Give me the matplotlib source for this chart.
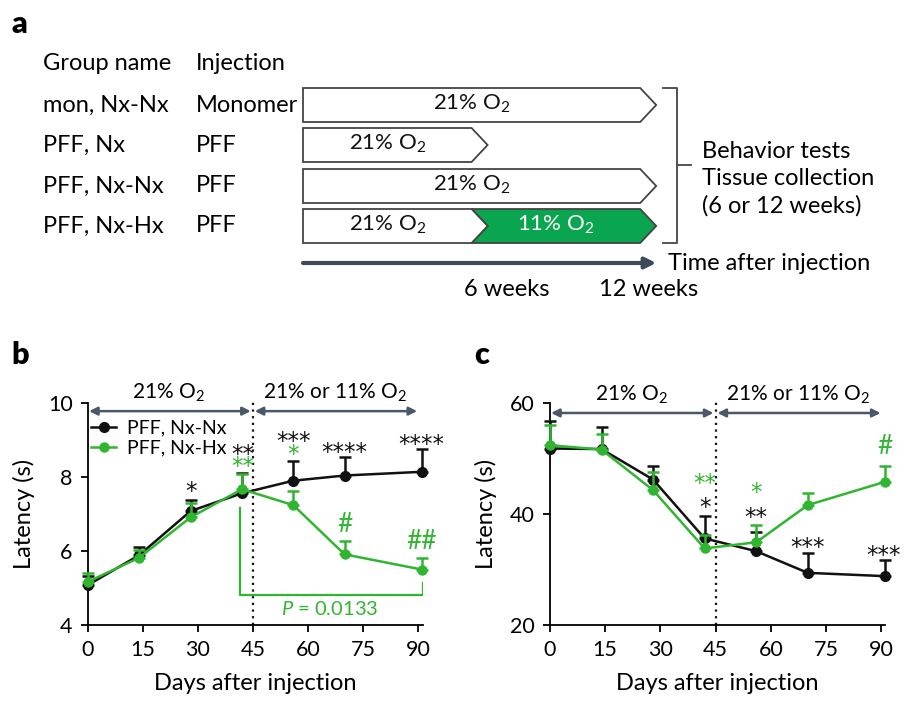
import matplotlib
matplotlib.use('Agg')
import matplotlib.pyplot as plt
from matplotlib.patches import Polygon
from matplotlib.lines import Line2D

plt.rcParams['font.family'] = ['Lato', 'DejaVu Sans']
plt.rcParams['mathtext.fontset'] = 'custom'
plt.rcParams['mathtext.rm'] = 'Lato'
plt.rcParams['mathtext.it'] = 'Lato:italic'

BLACK = '#111111'
GREEN = '#30b530'
FILL_GREEN = '#0aa64f'
SLATE = '#4a5868'

# ---- panel a : design
groups = ['mon, Nx-Nx', 'PFF, Nx', 'PFF, Nx-Nx', 'PFF, Nx-Hx']
injections = ['Monomer', 'PFF', 'PFF', 'PFF']
phase_start = [[0], [0], [0], [0, 6]]
phase_end = [[12], [6], [12], [6, 12]]
phase_o2 = [['21%'], ['21%'], ['21%'], ['21%', '11%']]
week_labels = ['6 weeks', '12 weeks']

# ---- panels b and c
days = [0, 14, 28, 42, 56, 70, 91]
b_nxnx = [5.08, 5.89, 7.08, 7.56, 7.90, 8.04, 8.14]
b_nxnx_err = [0.25, 0.23, 0.30, 0.56, 0.54, 0.49, 0.63]
b_nxhx = [5.17, 5.82, 6.91, 7.67, 7.24, 5.91, 5.50]
b_nxhx_err = [0.24, 0.21, 0.40, 0.41, 0.39, 0.37, 0.30]

c_nxnx = [51.8, 51.7, 46.2, 35.6, 33.3, 29.4, 28.8]
c_nxnx_err = [5.0, 4.0, 2.4, 4.0, 3.5, 3.6, 3.0]
c_nxhx = [52.4, 51.6, 44.3, 33.8, 34.9, 41.6, 45.8]
c_nxhx_err = [3.6, 2.8, 3.3, 2.4, 3.1, 2.2, 2.8]

# significance marks: (day, y, text, colour)
b_marks = [(28, 7.8, '*', 'k'), (42.3, 8.82, '**', 'k'), (42.3, 8.48, '**', 'g'),
           (56, 9.16, '***', 'k'), (56, 8.82, '*', 'g'), (70, 8.86, '****', 'k'),
           (70, 6.72, '#', 'g'), (91, 9.09, '****', 'k'), (91, 6.25, '##', 'g')]
c_marks = [(42, 46.8, '**', 'g'), (42, 42.5, '*', 'k'), (56, 45.2, '*', 'g'),
           (56, 40.8, '**', 'k'), (70, 35.4, '***', 'k'), (90.6, 33.8, '***', 'k'),
           (91, 52.2, '#', 'g')]

fig = plt.figure(figsize=(9.13, 7.08), dpi=100)

# panel a drawn in pixel coordinates
ax_a = fig.add_axes([0, 0, 1, 1])
ax_a.set_xlim(0, 913)
ax_a.set_ylim(708, 0)
ax_a.axis('off')


def wx(w):
    return 303 + 28.1 * w


tip = 16
row_top = [88, 128, 169, 209]
row_h = 34
fs_a = 17

ax_a.text(11, 24, 'a', fontsize=22, fontweight='heavy', va='center')
ax_a.text(43, 63, 'Group name', fontsize=fs_a, va='center')
ax_a.text(196, 63, 'Injection', fontsize=fs_a, va='center')
for i in range(len(groups)):
    top = row_top[i]
    mid = top + row_h / 2
    bot = top + row_h
    ax_a.text(43, mid, groups[i], fontsize=fs_a, va='center')
    ax_a.text(196, mid, injections[i], fontsize=fs_a, va='center')
    for s, e, o2 in zip(phase_start[i], phase_end[i], phase_o2[i]):
        x0, x1 = wx(s), wx(e)
        pts = [(x0, top), (x1, top), (x1 + tip, mid), (x1, bot), (x0, bot)]
        if s > 0:
            pts.append((x0 + tip, mid))
        hyp = o2 == '11%'
        ax_a.add_patch(Polygon(pts, closed=True, facecolor=FILL_GREEN if hyp else 'white',
                               edgecolor='#444444', lw=1.3, zorder=2 if s > 0 else 3))
        ax_a.text((x0 + x1) / 2, mid - 1, o2 + ' O$_2$', fontsize=16,
                  ha='center', va='center', color='white' if hyp else BLACK, zorder=4)

# bracket
ax_a.plot([663, 677, 677, 663], [88, 88, 243, 243], color='#444444', lw=1.3)
ax_a.plot([677, 691], [165, 165], color='#444444', lw=1.3)
for k, t in enumerate(['Behavior tests', 'Tissue collection', '(6 or 12 weeks)']):
    ax_a.text(702, 151 + 27.5 * k, t, fontsize=fs_a, va='center')

# time arrow
ax_a.annotate('', xy=(wx(12) + tip, 263), xytext=(wx(0), 263),
              arrowprops=dict(arrowstyle='-|>', color='#3c4a5a', lw=3, mutation_scale=16,
                              shrinkA=0, shrinkB=0))
ax_a.text(668, 263, 'Time after injection', fontsize=fs_a, va='center')
ax_a.text(wx(6) + 35, 290, week_labels[0], fontsize=fs_a, va='center', ha='center')
ax_a.text(wx(12) + 8, 290, week_labels[1], fontsize=fs_a, va='center', ha='center')

# ---- panels b, c
fig.text(11 / 913, 1 - 355 / 708, 'b', fontsize=22, fontweight='heavy', va='center')
fig.text(474 / 913, 1 - 355 / 708, 'c', fontsize=22, fontweight='heavy', va='center')


def time_panel(rect, nx, nx_err, hx, hx_err, ylim, yticks, marks, arrow_y, lab_y, xmax):
    ax = fig.add_axes(rect)
    ax.set_facecolor('none')
    ax.errorbar(days, nx, yerr=[[0] * len(nx), nx_err], color=BLACK, lw=1.8, marker='o',
                ms=7, capsize=4, capthick=1.8, elinewidth=1.8, clip_on=False, zorder=3)
    ax.errorbar(days, hx, yerr=[[0] * len(hx), hx_err], color=GREEN, lw=1.8, marker='o',
                ms=6.5, capsize=4, capthick=1.8, elinewidth=1.8, clip_on=False, zorder=4)
    ax.set_xlim(0, xmax)
    ax.set_ylim(*ylim)
    ax.set_xticks([0, 15, 30, 45, 60, 75, 90])
    ax.set_yticks(yticks)
    ax.spines['top'].set_visible(False)
    ax.spines['right'].set_visible(False)
    for s in ['left', 'bottom']:
        ax.spines[s].set_linewidth(1.3)
    ax.tick_params(labelsize=15.5, width=1.3, length=5, pad=6)
    ax.set_xlabel('Days after injection', fontsize=17, labelpad=9)
    ax.set_ylabel('Latency (s)', fontsize=17, labelpad=9)
    ax.axvline(45, color=BLACK, ls=(0, (1, 2)), lw=1.6, ymax=1.01, clip_on=False)
    for x0, x1 in [(0.3, 44.4), (45.5, 89.8)]:
        ax.annotate('', xy=(x1, arrow_y), xytext=(x0, arrow_y),
                    arrowprops=dict(arrowstyle='<|-|>', color=SLATE, lw=1.8,
                                    mutation_scale=12, shrinkA=0, shrinkB=0))
    ax.text(22, lab_y, '21% O$_2$', fontsize=15, ha='center', va='center')
    ax.text(67.4, lab_y, '21% or 11% O$_2$', fontsize=15, ha='center', va='center')
    for d, y, t, c in marks:
        star = '*' in t
        fs = 16.5 if star else 19
        dy = -0.33 * fs if star else 0
        ax.annotate(t, (d, y), xytext=(0, dy), textcoords='offset points',
                    fontsize=fs, family='DejaVu Sans' if star else None,
                    ha='center', va='center', color=BLACK if c == 'k' else GREEN)
    return ax


ax_b = time_panel([88 / 913, 83 / 708, 335 / 913, 222 / 708], b_nxnx, b_nxnx_err,
                  b_nxhx, b_nxhx_err, (4, 10), [4, 6, 8, 10], b_marks, 9.78, 10.27, 91.4)
ax_b.legend(handles=[Line2D([], [], color=BLACK, marker='o', ms=7, lw=1.8),
                     Line2D([], [], color=GREEN, marker='o', ms=6.5, lw=1.8)],
            labels=['PFF, Nx-Nx', 'PFF, Nx-Hx'], loc='upper left',
            bbox_to_anchor=(0.01, 0.925), frameon=False, fontsize=14, handlelength=1.25,
            handletextpad=0.6, labelspacing=0.15, borderpad=0, borderaxespad=0)
ax_b.plot([41.6, 41.6, 91.3, 91.3], [7.15, 4.81, 4.81, 5.13], color=GREEN, lw=1.6)
ax_b.text(66, 4.42, '$P$ = 0.0133', fontsize=14.5, ha='center', va='center', color=GREEN)

ax_c = time_panel([550 / 913, 83 / 708, 335 / 913, 222 / 708], c_nxnx, c_nxnx_err,
                  c_nxhx, c_nxhx_err, (20, 60), [20, 40, 60], c_marks, 58.2, 61.4, 91)

fig.savefig('out.png', dpi=100)
